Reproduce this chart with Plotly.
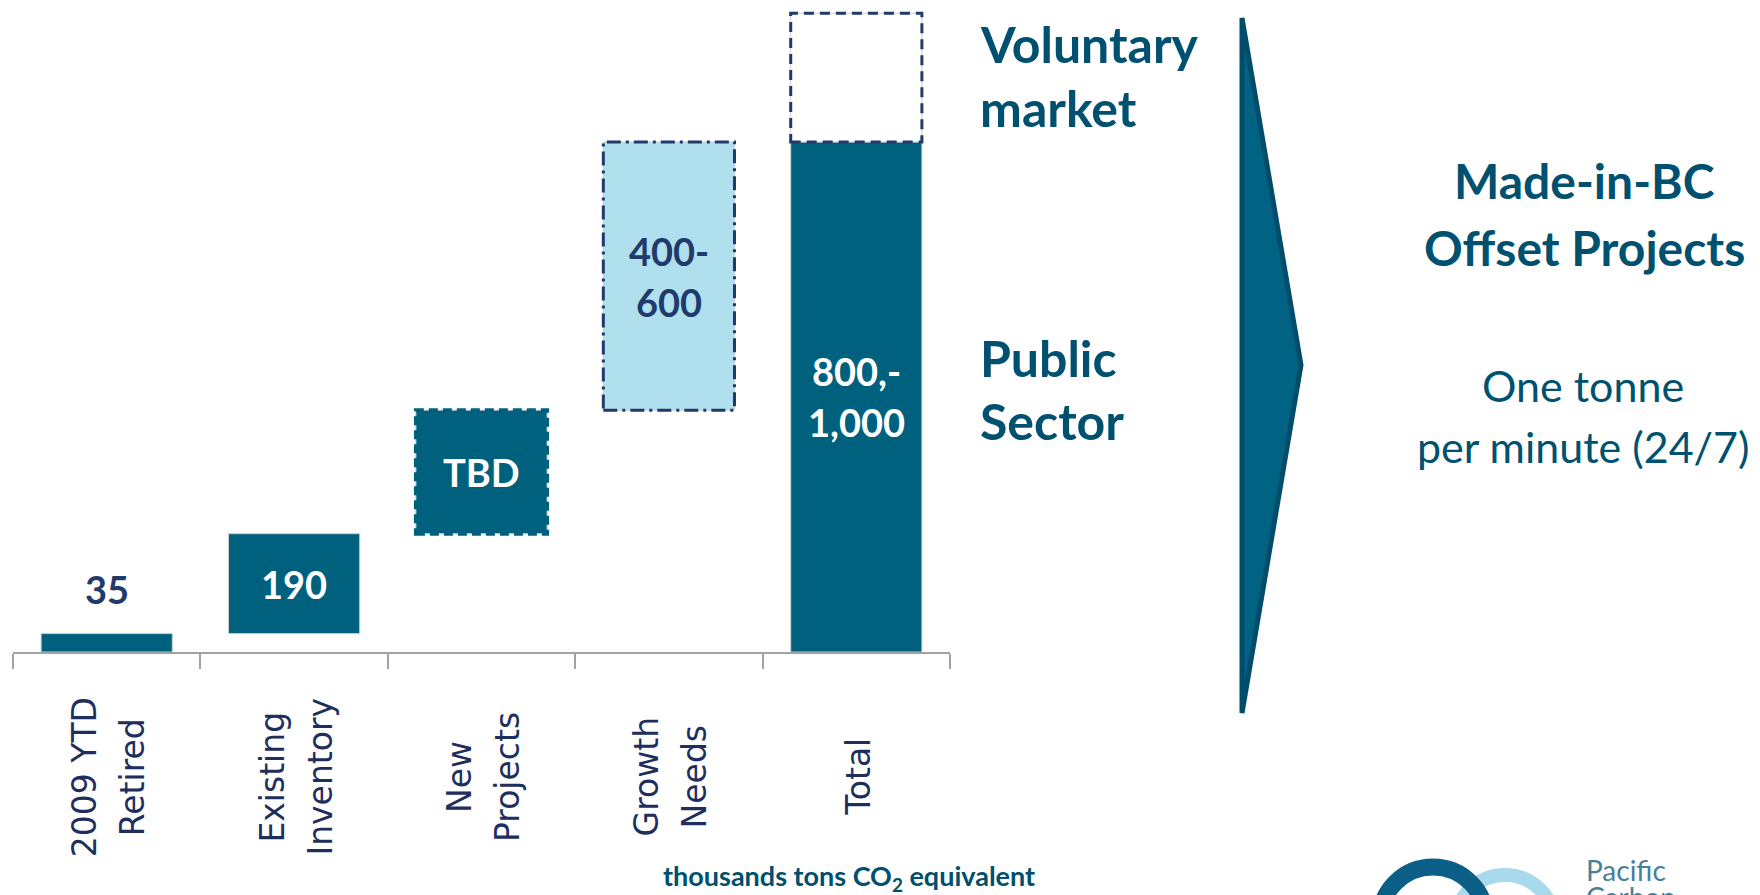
import plotly.graph_objects as go

# chart data (thousands tons CO2e)
categories = ["2009 YTD\nRetired", "Existing\nInventory", "New\nProjects", "Growth\nNeeds", "Total"]
retired = 35
inventory = 190
new_projects = 235
growth = 510
voluntary = 245
value_labels = ["35", "190", "TBD", "400-\n600", "800,-\n1,000"]

steps = [retired, inventory, new_projects, growth]
total = sum(steps)

W, H = 1760, 895
TEAL = "#00617F"
NAVY = "#1F3A6B"
LIGHT = "#B0E0EE"
TXT = "#00516F"


def px(x):
    return x / W


def py(y):
    return 1 - y / H


# floating bars of the waterfall + the total with the voluntary part on top
bases = []
run = 0
for s in steps:
    bases.append(run)
    run += s
bar_x = [0, 1, 2, 3, 4, 4]
bar_base = bases + [0, total]
bar_y = steps + [total, voluntary]
bar_col = [TEAL, TEAL, TEAL, LIGHT, TEAL, "white"]

fig = go.Figure()
fig.add_trace(go.Bar(
    x=bar_x, y=bar_y, base=bar_base, width=0.7,
    marker=dict(color=bar_col, line=dict(color="#c9cdd2", width=1)),
    hoverinfo="skip", showlegend=False,
))

shapes = []
# dashed outlines
outlines = [
    (2, bases[2], new_projects, TEAL, 4, "9px,5px"),
    (3, bases[3], growth, NAVY, 3, "14px,5px,3px,5px"),
    (4, total, voluntary, NAVY, 3, "10px,6px"),
]
for i, b, v, c, w, d in outlines:
    shapes.append(dict(type="rect", xref="x", yref="y", x0=i - 0.35, x1=i + 0.35,
                       y0=b, y1=b + v, line=dict(color=c, width=w, dash=d)))

# big arrow
ax = [1242, 1301, 1242]
ay = [18, 365, 713]
path = "M {},{} L {},{} L {},{} Z".format(px(ax[0]), py(ay[0]), px(ax[1]), py(ay[1]), px(ax[2]), py(ay[2]))
shapes.append(dict(type="path", xref="paper", yref="paper", path=path,
                   fillcolor="#006383", line=dict(color="#004D6B", width=5)))

# logo rings (bottom right, cut off)
for cx, cy, r, w, c in [(1505, 925, 50, 14, "#A9D9EC"), (1433, 920, 53, 17, "#0B5E86")]:
    shapes.append(dict(type="circle", xref="paper", yref="paper",
                       x0=px(cx - r), x1=px(cx + r), y0=py(cy + r), y1=py(cy - r),
                       line=dict(color=c, width=w)))

ann = []
# category labels, rotated, lines centred
for i, lab in enumerate(categories):
    lines = lab.split("\n")
    n = len(lines)
    for j, ln in enumerate(lines):
        ann.append(dict(x=i, xref="x", y=py(777), yref="paper", text=ln, textangle=-90,
                        showarrow=False, xanchor="center", yanchor="middle",
                        xshift=(j - (n - 1) / 2) * 48 + 1.5,
                        font=dict(family="DejaVu Sans", size=33, color="#1E2F5E")))

# value labels
lab_y = [retired] + [b + s / 2 for b, s in zip(bases[1:], steps[1:])] + [total / 2]
lab_shift = [45, 0, 0, 0, 0]
lab_col = [NAVY, "white", "white", NAVY, "white"]
for i, t in enumerate(value_labels):
    lines = t.split("\n")
    n = len(lines)
    for j, ln in enumerate(lines):
        ann.append(dict(x=i, xref="x", y=lab_y[i], yref="y", text=ln, showarrow=False,
                        xanchor="center", yanchor="middle",
                        yshift=lab_shift[i] - (j - (n - 1) / 2) * 51,
                        font=dict(family="Lato", size=38, color=lab_col[i], weight="bold")))

# right hand text
side = [
    ("Voluntary", 978, 44, "left", 50, "bold"),
    ("market", 978, 108, "left", 50, "bold"),
    ("Public", 978, 358, "left", 50, "bold"),
    ("Sector", 978, 421, "left", 50, "bold"),
    ("Made-in-BC", 1584, 180, "center", 48, "bold"),
    ("Offset Projects", 1584, 247, "center", 48, "bold"),
    ("One tonne", 1583, 385, "center", 43, "normal"),
    ("per minute (24/7)", 1583, 446, "center", 43, "normal"),
]
for t, x, y, a, s, wt in side:
    ann.append(dict(x=px(x), xref="paper", y=py(y), yref="paper", text=t, showarrow=False,
                    xanchor=a, yanchor="middle",
                    font=dict(family="Lato", size=s, color=TXT, weight=wt)))

ann.append(dict(x=px(849), xref="paper", y=py(877), yref="paper",
                text="thousands tons CO<sub>2</sub> equivalent", showarrow=False,
                xanchor="center", yanchor="middle",
                font=dict(family="Lato", size=27, color="#004F6E", weight="bold")))

# logo text
ann.append(dict(x=px(1584), xref="paper", y=py(870), yref="paper", text="Pacific",
                showarrow=False, xanchor="left", yanchor="middle",
                font=dict(family="Lato", size=28, color="#4A7F99")))
ann.append(dict(x=px(1584), xref="paper", y=py(897), yref="paper", text="Carbon",
                showarrow=False, xanchor="left", yanchor="middle",
                font=dict(family="Lato", size=28, color="#4A7F99")))

fig.update_layout(
    template="none",
    width=W, height=H,
    margin=dict(l=0, r=0, t=0, b=0),
    paper_bgcolor="white", plot_bgcolor="white",
    barmode="overlay", showlegend=False,
    xaxis=dict(domain=[px(13), px(950)], range=[-0.5, 4.5],
               tickvals=[k - 0.5 for k in range(6)], showticklabels=False,
               ticks="outside", ticklen=15, tickwidth=2, tickcolor="#9EA3A8",
               showline=True, linecolor="#9EA3A8", linewidth=2,
               showgrid=False, zeroline=False, fixedrange=True),
    yaxis=dict(domain=[py(652), 1], range=[0, 1240], visible=False, fixedrange=True),
    shapes=shapes,
    annotations=ann,
)

fig.write_html("out.html", config={"displayModeBar": False},
               post_script="document.body.style.margin='0';")
